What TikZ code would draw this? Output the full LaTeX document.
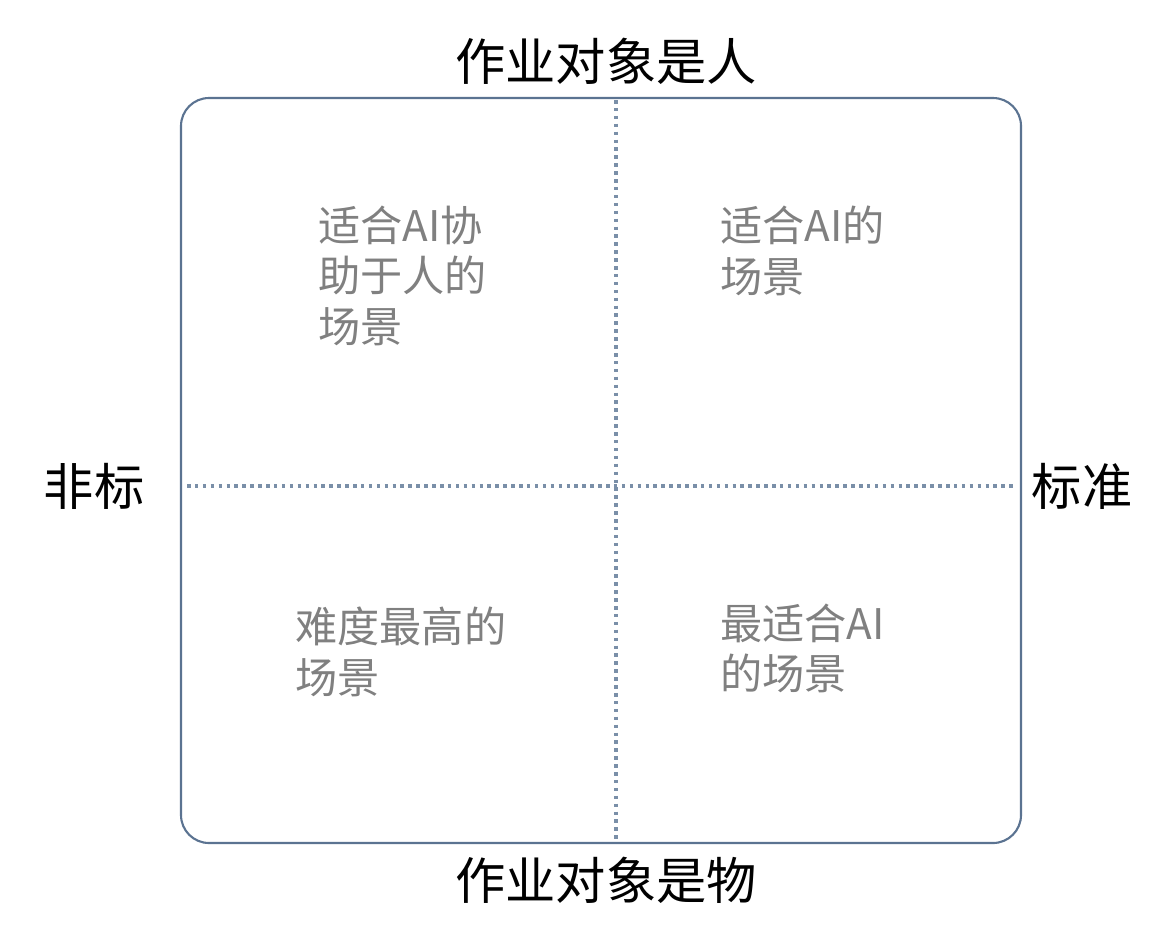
\documentclass[tikz,border=0pt]{standalone}
\usepackage{fontspec}
\setmainfont{Noto Sans CJK SC}
\usetikzlibrary{positioning}
\definecolor{boxblue}{HTML}{5B7391}
\definecolor{dotblue}{HTML}{7A8FA8}
\definecolor{quadgray}{HTML}{808080}

\begin{document}
\begin{tikzpicture}
	[x=0.02cm, y=-0.02cm,
	 axis/.style={font=\fontsize{28.6}{34}\selectfont, inner sep=0pt},
	 quad/.style={font=\fontsize{24}{28.5}\selectfont, text=quadgray, align=left, anchor=north west, inner sep=0pt},
	 frame/.style={draw=boxblue, line width=1.2pt, rounded corners=0.56cm},
	 divider/.style={draw=dotblue, line width=2pt, dash pattern=on 2pt off 2.5pt}]
   \useasboundingbox (0,0) rectangle (1162,944);
   % frame and the two dotted axes
   \coordinate (tl) at (181,98);
   \coordinate (br) at (1021,843);
   \draw[frame] (tl) rectangle (br);
   \coordinate (vtop) at (616,100);
   \coordinate (vbot) at (616,841);
   \coordinate (hleft) at (187,486);
   \coordinate (hright) at (1015,486);
   \draw[divider] (vtop) -- (vbot);
   \draw[divider] (hleft) -- (hright);
   % axis labels
   \node[axis] (people) at (606,61) {作业对象是人};
   \node[axis] (things) at (606,880) {作业对象是物};
   \node[axis] (nonstd) at (94,486) {非标};
   \node[axis] (std) at (1082,486) {标准};
   % quadrants
   \node[quad] (q_tl) at (318,206) {适合AI协\\助于人的\\场景};
   \node[quad] (q_tr) at (720,206) {适合AI的\\场景};
   \node[quad] (q_bl) at (295,607) {难度最高的\\场景};
   \node[quad] (q_br) at (720,604) {最适合AI\\的场景};
\end{tikzpicture}
\end{document}
